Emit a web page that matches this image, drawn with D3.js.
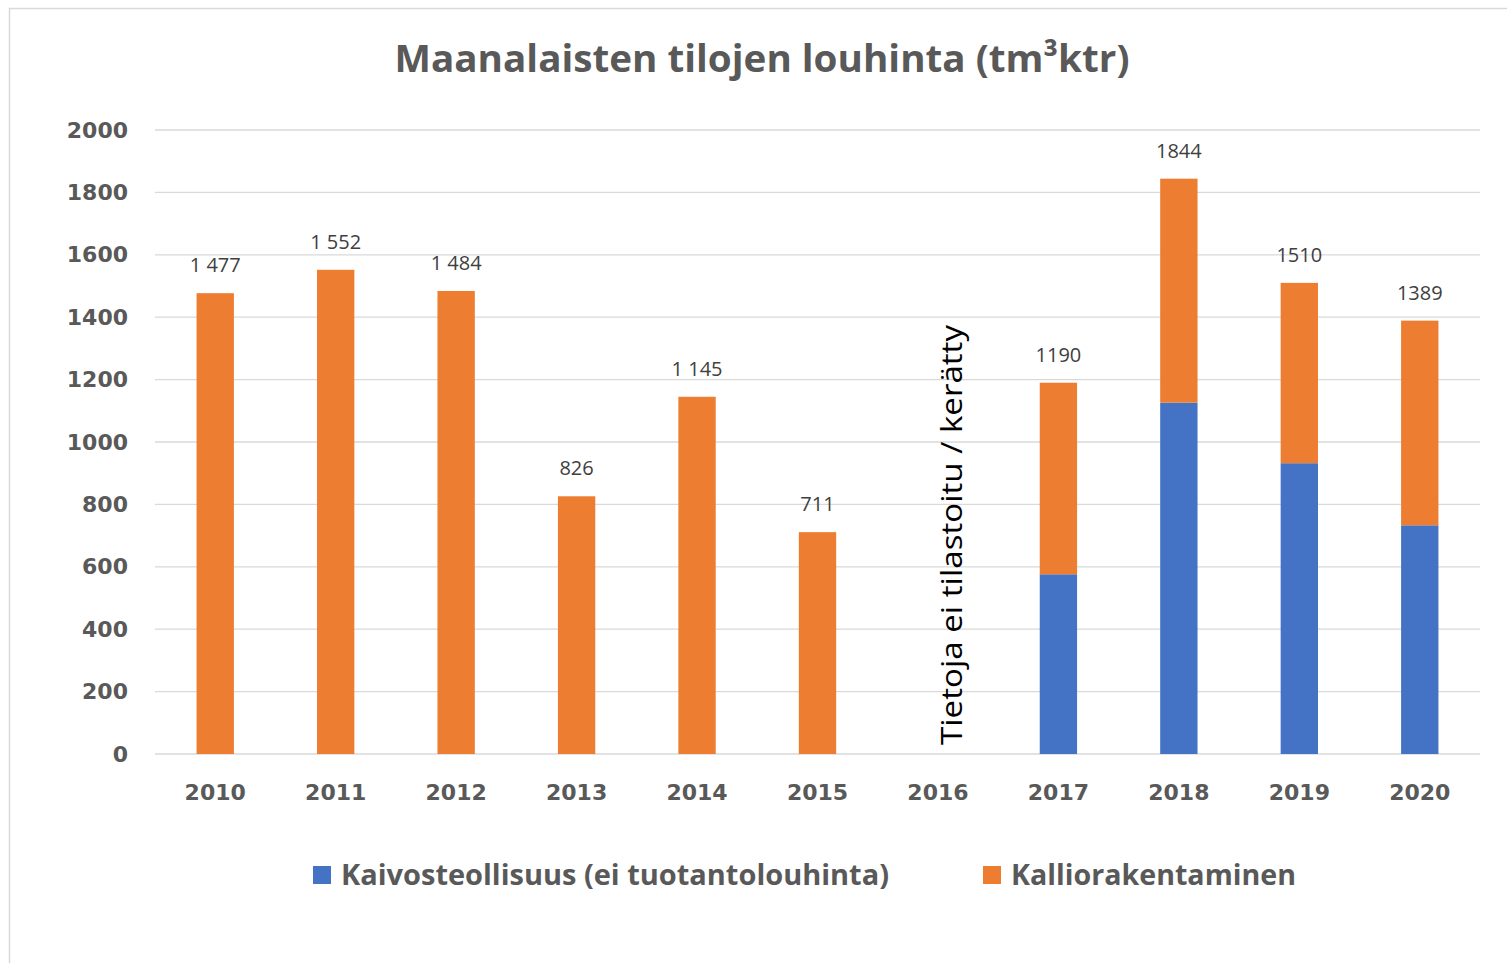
<!DOCTYPE html>
<html>
<head>
<meta charset="utf-8">
<script src="https://cdn.jsdelivr.net/npm/d3@7"></script>
<style>
  body { margin: 0; background: #fff; }
  svg { display: block; }
</style>
</head>
<body>
<div id="graph"></div>
<script>
const years = ['2010','2011','2012','2013','2014','2015','2016','2017','2018','2019','2020']
const kaivos = [0, 0, 0, 0, 0, 0, null, 576, 1126, 932, 733]
const kallio = [1477, 1552, 1484, 826, 1145, 711, null, 614, 718, 578, 656]
const totalLabels = ['1 477','1 552','1 484','826','1 145','711','','1190','1844','1510','1389']
const yTicks = [0, 200, 400, 600, 800, 1000, 1200, 1400, 1600, 1800, 2000]
const seriesNames = ['Kaivosteollisuus (ei tuotantolouhinta)', 'Kalliorakentaminen']
const colors = ['#4472C4', '#ED7D31']

const width = 1507
const height = 963

const svg = d3.select('#graph')
    .append('svg')
    .attr('width', width)
    .attr('height', height)

// chart frame
svg.append('rect')
    .attr('x', 9.5).attr('y', 8.5)
    .attr('width', 1520).attr('height', 1000)
    .attr('fill', 'none')
    .attr('stroke', '#d9d9d9')
    .attr('stroke-width', 1.5)

svg.append('text')
    .attr('x', 762).attr('y', 72)
    .attr('text-anchor', 'middle')
    .attr('font-family', 'Open Sans, sans-serif')
    .attr('font-weight', 'bold')
    .attr('font-size', 38)
    .attr('fill', '#595959')
    .attr('textLength', 735)
    .attr('lengthAdjust', 'spacingAndGlyphs')
    .text('Maanalaisten tilojen louhinta (tm³ktr)')

const xScale = d3.scaleBand().domain(years).range([155, 1480]).paddingInner(0.69).paddingOuter(0.345)
const yScale = d3.scaleLinear().domain([0, 2000]).range([754, 130])

// grid
svg.append('g')
    .selectAll('line')
    .data(yTicks)
    .enter()
    .append('line')
    .attr('x1', 155).attr('x2', 1480)
    .attr('y1', d => yScale(d)).attr('y2', d => yScale(d))
    .attr('stroke', '#d9d9d9')
    .attr('stroke-width', 1.3)

const yAxis = d3.axisLeft(yScale).tickValues(yTicks).tickFormat(d3.format('d')).tickSize(0).tickPadding(0)
svg.append('g')
    .attr('transform', 'translate(128,0)')
    .call(yAxis)
    .call(g => g.select('.domain').remove())
    .selectAll('text')
    .attr('font-family', 'DejaVu Sans, sans-serif')
    .attr('font-weight', 'bold')
    .attr('font-size', 22)
    .attr('fill', '#595959')

const xAxis = d3.axisBottom(xScale).tickSize(0).tickPadding(0)
svg.append('g')
    .attr('transform', 'translate(0,784)')
    .call(xAxis)
    .call(g => g.select('.domain').remove())
    .selectAll('text')
    .attr('font-family', 'DejaVu Sans, sans-serif')
    .attr('font-weight', 'bold')
    .attr('font-size', 22)
    .attr('fill', '#595959')

const rows = years.map((y, i) => ({ year: y, kaivos: kaivos[i] || 0, kallio: kallio[i] || 0, label: totalLabels[i] }))
const stack = d3.stack().keys(['kaivos', 'kallio'])(rows)

svg.append('g')
    .selectAll('g')
    .data(stack)
    .enter()
    .append('g')
    .attr('fill', (d, i) => colors[i])
    .selectAll('rect')
    .data(d => d.filter(p => p[1] > p[0]))
    .enter()
    .append('rect')
    .attr('x', d => xScale(d.data.year))
    .attr('width', xScale.bandwidth())
    .attr('y', d => yScale(d[1]))
    .attr('height', d => yScale(d[0]) - yScale(d[1]))

svg.append('g')
    .selectAll('text')
    .data(rows.filter(d => d.label !== ''))
    .enter()
    .append('text')
    .attr('x', d => xScale(d.year) + xScale.bandwidth() / 2)
    .attr('y', d => yScale(d.kaivos + d.kallio) - 21)
    .attr('text-anchor', 'middle')
    .attr('font-family', 'Open Sans, sans-serif')
    .attr('font-size', 20)
    .attr('fill', '#404040')
    .text(d => d.label)

// note for the missing year
svg.append('text')
    .attr('transform', `translate(${xScale('2016') + xScale.bandwidth() / 2 + 24},745) rotate(-90)`)
    .attr('font-family', 'Open Sans, sans-serif')
    .attr('font-size', 30)
    .attr('fill', '#000')
    .attr('textLength', 420)
    .attr('lengthAdjust', 'spacingAndGlyphs')
    .text('Tietoja ei tilastoitu / kerätty')

// legend
const legendPos = [313, 983]
const legendLen = [548, 285]
const legend = svg.append('g').attr('id', 'legend')
seriesNames.forEach((name, i) => {
    legend.append('rect')
        .attr('x', legendPos[i]).attr('y', 866)
        .attr('width', 18).attr('height', 18)
        .attr('fill', colors[i])
    legend.append('text')
        .attr('x', legendPos[i] + 28).attr('y', 885)
        .attr('font-family', 'Open Sans, sans-serif')
        .attr('font-weight', 'bold')
        .attr('font-size', 29)
        .attr('fill', '#595959')
        .attr('textLength', legendLen[i])
        .attr('lengthAdjust', 'spacingAndGlyphs')
        .text(name)
})
</script>
</body>
</html>
